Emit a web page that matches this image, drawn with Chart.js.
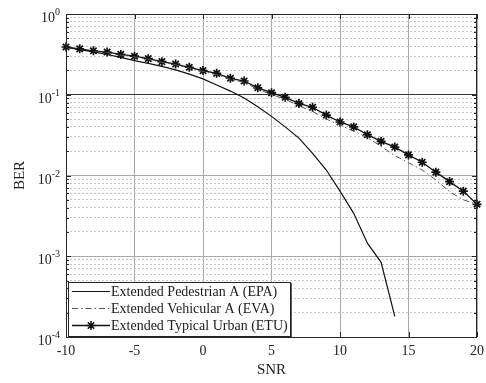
<!DOCTYPE html>
<html>
<head>
<meta charset="utf-8">
<script src="https://cdn.jsdelivr.net/npm/chart.js@4.4.1/dist/chart.umd.min.js"></script>
<style>
  html, body { margin: 0; padding: 0; background: #fff; }
  #wrap { width: 486px; height: 383px; }
</style>
</head>
<body>
<div id="wrap"><canvas id="berChart"></canvas></div>
<script>
// SNR points (dB)
var snr = [-10, -9, -8, -7, -6, -5, -4, -3, -2, -1, 0, 1, 2, 3, 4, 5, 6, 7, 8, 9, 10,
           11, 12, 13, 14, 15, 16, 17, 18, 19, 20];

// BER
var berEPA = [0.39, 0.362, 0.34, 0.315, 0.29, 0.265, 0.245, 0.225, 0.203, 0.18, 0.157,
              0.132, 0.111, 0.091, 0.071, 0.054, 0.040, 0.029, 0.0188, 0.0117, 0.0064,
              0.0034, 0.00145, 0.00084, 0.00018];
var berEVA = [0.385, 0.365, 0.345, 0.332, 0.31, 0.295, 0.275, 0.252, 0.235, 0.214, 0.194,
              0.178, 0.155, 0.143, 0.117, 0.101, 0.088, 0.073, 0.062, 0.050, 0.042,
              0.0355, 0.0294, 0.023, 0.0176, 0.0144, 0.0117, 0.0088, 0.0063, 0.005, 0.0044];
var berETU = [0.39, 0.37, 0.35, 0.338, 0.316, 0.30, 0.28, 0.257, 0.24, 0.219, 0.199,
              0.184, 0.16, 0.148, 0.122, 0.106, 0.093, 0.078, 0.070, 0.056, 0.046,
              0.040, 0.032, 0.0265, 0.0225, 0.018, 0.0146, 0.011, 0.0084, 0.0064, 0.0044];

var seriesNames = ['Extended Pedestrian A (EPA)', 'Extended Vehicular A (EVA)', 'Extended Typical Urban (ETU)'];

// axis ticks
var xTicks = [-10, -5, 0, 5, 10, 15, 20];
var yDecades = [1e-4, 1e-3, 1e-2, 1e-1, 1];
var yExponents = ['-4', '-3', '-2', '-1', '0'];
var yMinorSteps = [2, 3, 4, 5, 6, 7, 8, 9];

var serif = '"Liberation Serif", "Times New Roman", serif';

function toPoints(ys) {
  return ys.map(function (y, i) { return { x: snr[i], y: y }; });
}

function isDecade(v) {
  var l = Math.log10(v);
  return Math.abs(l - Math.round(l)) < 1e-6;
}

// all y tick values: decades plus 2..9 in between
var yTickVals = [];
yDecades.forEach(function (d, i) {
  yTickVals.push(d);
  if (i < yDecades.length - 1) {
    yMinorSteps.forEach(function (m) { yTickVals.push(m * d); });
  }
});

// y labels as 10 with superscript, frame, inward ticks and legend
var matlabLook = {
  id: 'matlabLook',
  afterDraw: function (chart) {
    var ctx = chart.ctx;
    var area = chart.chartArea;
    var xs = chart.scales.x, ys = chart.scales.y;
    ctx.save();

    // frame (box on)
    ctx.strokeStyle = '#262626';
    ctx.lineWidth = 1;
    ctx.strokeRect(Math.round(area.left) + 0.5, Math.round(area.top) + 0.5,
                   Math.round(area.right - area.left) - 1, Math.round(area.bottom - area.top));

    // inward tick marks
    ctx.beginPath();
    yTickVals.forEach(function (v) {
      var py = Math.round(ys.getPixelForValue(v)) + 0.5;
      var len = isDecade(v) ? 5 : 3;
      ctx.moveTo(area.left, py); ctx.lineTo(area.left + len, py);
      ctx.moveTo(area.right, py); ctx.lineTo(area.right - len, py);
    });
    xTicks.forEach(function (v) {
      var px = Math.round(xs.getPixelForValue(v)) + 0.5;
      ctx.moveTo(px, area.bottom); ctx.lineTo(px, area.bottom - 5);
      ctx.moveTo(px, area.top); ctx.lineTo(px, area.top + 5);
    });
    ctx.stroke();

    // y tick labels 10^k
    ctx.fillStyle = '#222';
    ctx.textBaseline = 'alphabetic';
    yDecades.forEach(function (d, i) {
      var py = ys.getPixelForValue(d);
      ctx.font = '10px ' + serif;
      var ew = ctx.measureText(yExponents[i]).width;
      var right = area.left - 6;
      ctx.textAlign = 'left';
      ctx.fillText(yExponents[i], right - ew, py + 1);
      ctx.font = '14px ' + serif;
      ctx.textAlign = 'right';
      ctx.fillText('10', right - ew, py + 8);
    });

    // legend
    var lx = 68, ly = 282, lw = 222, lh = 54;
    ctx.fillStyle = '#fff';
    ctx.fillRect(lx, ly, lw, lh);
    ctx.strokeStyle = '#262626';
    ctx.lineWidth = 1;
    ctx.strokeRect(lx + 0.5, ly + 0.5, lw, lh);
    ctx.beginPath();
    ctx.lineWidth = 1.5;
    ctx.moveTo(lx + 1, ly + lh + 1); ctx.lineTo(lx + lw + 1, ly + lh + 1); ctx.lineTo(lx + lw + 1, ly + 1);
    ctx.stroke();

    var rowY = [ly + 9, ly + 26, ly + 43];
    chart.data.datasets.forEach(function (ds, i) {
      var y = rowY[i] + 0.5;
      ctx.save();
      ctx.strokeStyle = ds.borderColor;
      ctx.lineWidth = ds.borderWidth;
      ctx.setLineDash(ds.borderDash || []);
      ctx.beginPath();
      ctx.moveTo(lx + 4, y); ctx.lineTo(lx + 42, y);
      ctx.stroke();
      ctx.restore();
      if (ds.pointRadius > 0) {
        ctx.strokeStyle = ds.pointBorderColor;
        ctx.fillStyle = ds.pointBackgroundColor;
        Chart.helpers.drawPoint(ctx, {
          pointStyle: ds.pointStyle, radius: ds.pointRadius, borderWidth: ds.pointBorderWidth
        }, lx + 23, y);
      }
      ctx.fillStyle = '#1a1a1a';
      ctx.font = '14px ' + serif;
      ctx.textAlign = 'left';
      ctx.textBaseline = 'middle';
      ctx.fillText(ds.label, lx + 43, rowY[i] + 1);
    });

    ctx.restore();
  }
};

var ctx = document.getElementById('berChart').getContext('2d');
var berChart = new Chart(ctx, {
  type: 'line',
  data: {
    datasets: [{
      label: seriesNames[0],
      data: toPoints(berEPA),
      borderColor: '#111',
      borderWidth: 1.2,
      pointRadius: 0,
      tension: 0
    }, {
      label: seriesNames[1],
      data: toPoints(berEVA),
      borderColor: '#555',
      borderWidth: 1,
      borderDash: [6, 3, 1.5, 3],
      pointRadius: 0,
      tension: 0
    }, {
      label: seriesNames[2],
      data: toPoints(berETU),
      borderColor: '#111',
      borderWidth: 1.3,
      pointStyle: 'star',
      pointRadius: 4.5,
      pointBorderWidth: 1.7,
      pointBorderColor: '#111',
      pointBackgroundColor: '#111',
      clip: false,
      tension: 0
    }]
  },
  plugins: [matlabLook],
  options: {
    responsive: true,
    maintainAspectRatio: false,
    animation: false,
    layout: { padding: { left: 0, top: 14, right: 9, bottom: 0 } },
    plugins: {
      legend: { display: false },
      tooltip: { enabled: false }
    },
    scales: {
      x: {
        type: 'linear',
        min: -10,
        max: 20,
        afterFit: function (scale) {
          scale.height = 46;
          scale.paddingLeft = 0;
          scale.paddingRight = 0;
        },
        afterBuildTicks: function (scale) {
          scale.ticks = xTicks.map(function (v) { return { value: v }; });
        },
        ticks: {
          padding: 6,
          color: '#222',
          font: { family: serif, size: 14 },
          callback: function (v) { return String(v); }
        },
        grid: {
          drawTicks: false,
          color: '#a8a8a8',
          lineWidth: 1
        },
        border: { display: false },
        title: {
          display: true,
          text: 'SNR',
          color: '#222',
          font: { family: serif, size: 15 },
          padding: { top: 0, bottom: 4 }
        }
      },
      y: {
        type: 'logarithmic',
        min: 1e-4,
        max: 1,
        afterFit: function (scale) { scale.width = 66; },
        afterBuildTicks: function (scale) {
          scale.ticks = yTickVals.map(function (v) { return { value: v }; });
        },
        ticks: { display: false },
        grid: {
          drawTicks: false,
          lineWidth: 1,
          color: function (c) {
            var v = c.tick && c.tick.value;
            if (!v) return '#a8a8a8';
            if (isDecade(v)) return Math.abs(v - 0.1) < 1e-9 ? '#333' : '#a8a8a8';
            return '#c4c4c4';
          }
        },
        border: {
          display: false,
          dash: function (c) {
            var v = c.tick && c.tick.value;
            if (!v || isDecade(v)) return [];
            return [2, 2];
          }
        },
        title: {
          display: true,
          text: 'BER',
          color: '#222',
          font: { family: serif, size: 15 },
          padding: { top: 11, bottom: 0 }
        }
      }
    }
  }
});
</script>
</body>
</html>
